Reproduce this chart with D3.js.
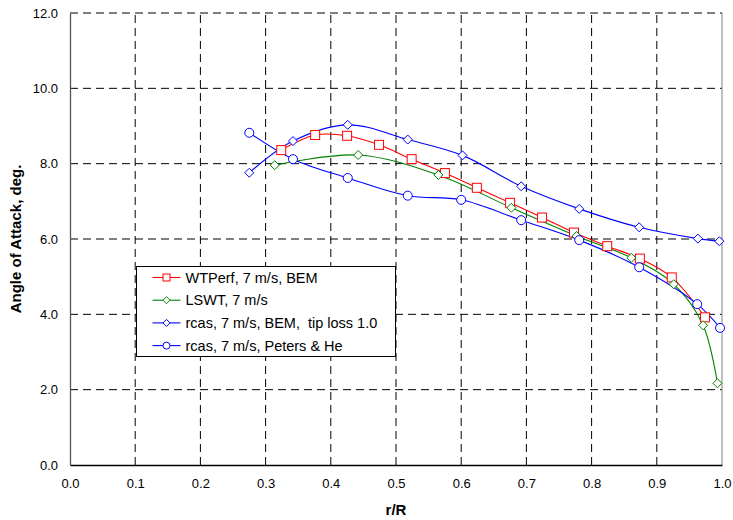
<!DOCTYPE html>
<html>
<head>
<meta charset="utf-8">
<script src="https://cdn.jsdelivr.net/npm/d3@7"></script>
<style>
  body { margin: 0; background: #fff; }
  svg { font-family: "Liberation Sans", Arial, sans-serif; }
</style>
</head>
<body>
<div class="myBox"></div>
<script>
var width = 733;
var height = 520;

// data
var wtperfX = [0.324, 0.376, 0.425, 0.474, 0.524, 0.575, 0.624, 0.675, 0.724, 0.773, 0.824, 0.874, 0.923, 0.974];
var wtperfY = [8.36, 8.76, 8.74, 8.50, 8.12, 7.75, 7.36, 6.96, 6.57, 6.17, 5.81, 5.48, 4.98, 3.92];

var lswtX = [0.314, 0.442, 0.565, 0.677, 0.777, 0.861, 0.926, 0.971, 0.993];
var lswtY = [7.96, 8.23, 7.70, 6.83, 6.08, 5.50, 4.80, 3.71, 2.17];

var bemX = [0.275, 0.342, 0.426, 0.518, 0.602, 0.692, 0.781, 0.873, 0.963, 0.996];
var bemY = [7.76, 8.60, 9.03, 8.64, 8.22, 7.40, 6.80, 6.31, 6.01, 5.94];

var petersX = [0.275, 0.342, 0.426, 0.518, 0.600, 0.692, 0.781, 0.873, 0.962, 0.997];
var petersY = [8.82, 8.12, 7.62, 7.15, 7.04, 6.50, 5.97, 5.25, 4.27, 3.64];

var xTicks = [0, 0.1, 0.2, 0.3, 0.4, 0.5, 0.6, 0.7, 0.8, 0.9, 1.0];
var yTicks = [0, 2, 4, 6, 8, 10, 12];

var seriesNames = ["WTPerf, 7 m/s, BEM", "LSWT, 7 m/s", "rcas, 7 m/s, BEM,  tip loss 1.0", "rcas, 7 m/s, Peters & He"];

var series = [
  { name: seriesNames[0], xs: wtperfX, ys: wtperfY, color: "#ff0000", marker: "square" },
  { name: seriesNames[1], xs: lswtX, ys: lswtY, color: "#008000", marker: "diamond" },
  { name: seriesNames[2], xs: bemX, ys: bemY, color: "#0000ff", marker: "diamond" },
  { name: seriesNames[3], xs: petersX, ys: petersY, color: "#0000ff", marker: "circle" }
];

var svg = d3.select(".myBox")
  .append("svg")
  .attr("width", width)
  .attr("height", height);

var margin = { left: 70, right: 11, top: 13, bottom: 55 };

var x = d3.scaleLinear().domain([0, 1]).range([margin.left, width - margin.right]);
var y = d3.scaleLinear().domain([0, 12]).range([height - margin.bottom, margin.top]);

// grid
var grid = svg.append("g");
grid.selectAll(".vgrid")
  .data(xTicks.slice(1, -1))
  .enter().append("line")
    .attr("x1", function(d) { return x(d); })
    .attr("x2", function(d) { return x(d); })
    .attr("y1", y(0))
    .attr("y2", y(12))
    .attr("stroke", "#000")
    .attr("stroke-width", 1)
    .attr("stroke-dasharray", "8,5");
grid.selectAll(".hgrid")
  .data(yTicks.slice(1))
  .enter().append("line")
    .attr("x1", x(0))
    .attr("x2", x(1))
    .attr("y1", function(d) { return y(d); })
    .attr("y2", function(d) { return y(d); })
    .attr("stroke", "#000")
    .attr("stroke-width", 1)
    .attr("stroke-dasharray", "8,5");

// right border
svg.append("line")
  .attr("x1", x(1)).attr("x2", x(1))
  .attr("y1", y(0)).attr("y2", y(12))
  .attr("stroke", "#808080");

// axes
var xAxis = svg.append("g")
  .attr("transform", "translate(0," + y(0) + ")")
  .call(d3.axisBottom(x).tickValues(xTicks).tickSize(0).tickPadding(14).tickFormat(d3.format(".1f")));
xAxis.select(".domain").attr("stroke", "#000").attr("stroke-width", 1.3);
xAxis.selectAll("text").attr("font-size", 13).attr("fill", "#000");

var yAxis = svg.append("g")
  .attr("transform", "translate(" + x(0) + ",0)")
  .call(d3.axisLeft(y).tickValues(yTicks).tickSize(0).tickPadding(12).tickFormat(d3.format(".1f")));
yAxis.select(".domain").attr("stroke", "#555").attr("stroke-width", 1.3);
yAxis.selectAll("text").attr("font-size", 13).attr("fill", "#000");

// titles
svg.append("text")
  .attr("x", (x(0) + x(1)) / 2)
  .attr("y", 515)
  .attr("text-anchor", "middle")
  .attr("font-size", 15)
  .attr("font-weight", "bold")
  .text("r/R");

svg.append("text")
  .attr("transform", "translate(21," + ((y(0) + y(12)) / 2) + ") rotate(-90)")
  .attr("text-anchor", "middle")
  .attr("font-size", 15)
  .attr("font-weight", "bold")
  .text("Angle of Attack, deg.");

var line = d3.line()
  .x(function(d) { return x(d[0]); })
  .y(function(d) { return y(d[1]); })
  .curve(d3.curveCatmullRom.alpha(0.5));

function drawMarker(sel, type, color) {
  if (type === "square") {
    sel.append("rect")
      .attr("x", -4.5).attr("y", -4.5).attr("width", 9).attr("height", 9)
      .attr("fill", "#fff").attr("stroke", color).attr("stroke-width", 1);
  } else if (type === "diamond") {
    sel.append("path")
      .attr("d", "M0,-4.5L4.5,0L0,4.5L-4.5,0Z")
      .attr("fill", "#fff").attr("stroke", color).attr("stroke-width", 1);
  } else {
    sel.append("circle")
      .attr("r", 4.5)
      .attr("fill", "#fff").attr("stroke", color).attr("stroke-width", 1);
  }
}

series.forEach(function(s) {
  var pts = s.xs.map(function(v, i) { return [v, s.ys[i]]; });
  svg.append("path")
    .datum(pts)
    .attr("d", line)
    .attr("fill", "none")
    .attr("stroke", s.color)
    .attr("stroke-width", 1.1);
});

series.forEach(function(s) {
  var pts = s.xs.map(function(v, i) { return [v, s.ys[i]]; });
  svg.append("g").selectAll("g")
    .data(pts)
    .enter().append("g")
      .attr("transform", function(d) { return "translate(" + x(d[0]) + "," + y(d[1]) + ")"; })
      .each(function() { drawMarker(d3.select(this), s.marker, s.color); });
});

// legend
var legend = svg.append("g").attr("transform", "translate(136.5,266.5)");
legend.append("rect")
  .attr("width", 259)
  .attr("height", 90)
  .attr("fill", "#fff")
  .attr("stroke", "#000")
  .attr("stroke-width", 1);

var item = legend.selectAll(".item")
  .data(series)
  .enter().append("g")
    .attr("transform", function(d, i) { return "translate(0," + (11 + i * 22.7) + ")"; });
item.append("line")
  .attr("x1", 16).attr("x2", 44)
  .attr("stroke", function(d) { return d.color; })
  .attr("stroke-width", 1.1);
item.each(function(d) {
  var g = d3.select(this).append("g").attr("transform", "translate(30,0)");
  drawMarker(g, d.marker, d.color);
  g.select("rect").attr("x", -3.5).attr("y", -3.5).attr("width", 7).attr("height", 7);
  g.select("circle").attr("r", 3.5);
  g.select("path").attr("d", "M0,-3.5L3.5,0L0,3.5L-3.5,0Z");
});
item.append("text")
  .attr("x", 49)
  .attr("y", 5)
  .attr("font-size", 14.5)
  .style("white-space", "pre")
  .text(function(d) { return d.name; });
</script>
</body>
</html>
